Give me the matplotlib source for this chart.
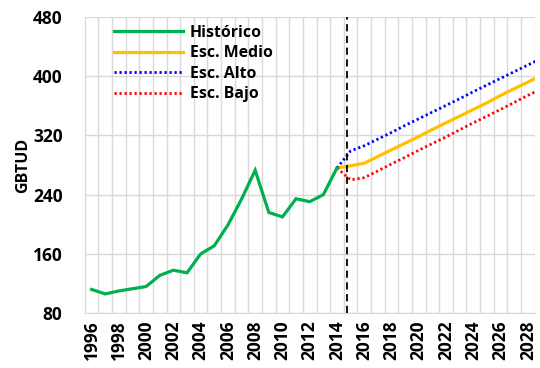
import numpy as np
import matplotlib.pyplot as plt
from matplotlib.ticker import MultipleLocator

# ---------------------------------------------------------------
# DATA
# ---------------------------------------------------------------
hist_years = list(range(1996, 2015))
historico = [112, 106, 110, 113, 116, 131, 138, 134.5, 160, 171,
             199, 234, 273, 216, 210, 234.5, 230.5, 240, 276]

proj_years = list(range(2014, 2030))
esc_medio = [276, 279, 282.5, 291.5, 300.5, 309.5, 318.5, 328, 337,
             346, 355, 364, 374, 383, 392, 401]
esc_alto = [276, 299, 306, 315, 324, 333.5, 342.5, 351.5, 360.5,
            369.5, 379, 388, 397, 406, 415, 424]
esc_bajo = [276, 260, 263, 272, 281.5, 290.5, 300, 309, 318,
            327.5, 337, 346, 355, 364.5, 374, 383]

cut_year = 2014.75
y_ticks = [80, 160, 240, 320, 400, 480]

# ---------------------------------------------------------------
# FIGURE
# ---------------------------------------------------------------
plt.rcParams['font.family'] = ['Open Sans', 'DejaVu Sans']
plt.rcParams['font.weight'] = 'bold'

fig = plt.figure(figsize=(5.4, 3.68), dpi=100)
ax = fig.add_axes([0.157, 0.149, 0.833, 0.805])

ax.plot(hist_years, historico, color='#00B050', lw=2.3, label='Histórico',
        solid_joinstyle='miter', zorder=4)
ax.plot(proj_years, esc_medio, color='#FFC000', lw=2.3, label='Esc. Medio', zorder=3)
ax.plot(proj_years, esc_alto, color='#0000FF', lw=2.0, ls=(0, (0.8, 1.0)),
        label='Esc. Alto', zorder=3)
ax.plot(proj_years, esc_bajo, color='#FF0000', lw=2.0, ls=(0, (0.8, 1.0)),
        label='Esc. Bajo', zorder=3)

ax.axvline(cut_year, color='black', lw=1.3, ls=(0, (4, 2.5)), zorder=5)

# axes
ax.set_xlim(1995.5, 2028.5)
ax.set_ylim(80, 480)
ax.set_yticks(y_ticks)
ax.xaxis.set_major_locator(MultipleLocator(2))
ax.xaxis.set_minor_locator(MultipleLocator(1, offset=0.5))
ax.grid(which='minor', axis='x', color='#d9d9d9', lw=1)
ax.grid(which='major', axis='y', color='#d9d9d9', lw=1)
ax.set_axisbelow(True)
ax.tick_params(which='both', length=0, labelsize=12.5)
ax.tick_params(axis='y', pad=16)
ax.tick_params(axis='x', pad=5)
for lbl in ax.get_xticklabels() + ax.get_yticklabels():
    lbl.set_fontweight('bold')
plt.setp(ax.get_xticklabels(), rotation=90)
for s in ['top', 'right']:
    ax.spines[s].set_visible(False)
for s in ['left', 'bottom']:
    ax.spines[s].set_color('#d9d9d9')

ax.set_ylabel('GBTUD', fontsize=11.5, fontweight='bold', labelpad=1)

leg = ax.legend(loc='upper left', bbox_to_anchor=(0.051, 0.995), frameon=False,
                fontsize=11.4, handlelength=4.35, handletextpad=0.45,
                labelspacing=0.28, borderaxespad=0)
for t in leg.get_texts():
    t.set_fontweight('bold')

fig.savefig('out.png', dpi=100)
